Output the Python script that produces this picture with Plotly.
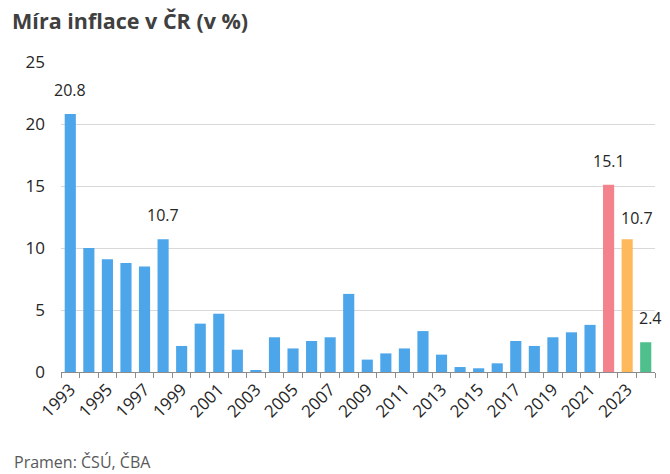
import plotly.graph_objects as go

years = list(range(1993, 2025))
inflation = [20.8, 10.0, 9.1, 8.8, 8.5, 10.7, 2.1, 3.9, 4.7, 1.8, 0.1, 2.8, 1.9, 2.5, 2.8,
             6.3, 1.0, 1.5, 1.9, 3.3, 1.4, 0.4, 0.3, 0.7, 2.5, 2.1, 2.8, 3.2, 3.8, 15.1, 10.7, 2.4]
labelled_years = [1993, 1998, 2022, 2023, 2024]
tick_years = list(range(1993, 2025, 2))
y_ticks = [0, 5, 10, 15, 20, 25]

BLUE = "#4da6ea"
special = {2022: "#f3828c", 2023: "#fdb95c", 2024: "#4fc08d"}
colors = [special.get(y, BLUE) for y in years]
# label pixel nudges (x, y) to mimic the original placement
nudges = {2023: (10, 8), 2024: (5, 11)}

fig = go.Figure()
fig.add_trace(go.Bar(
    x=years, y=inflation, marker_color=colors, marker_line_width=0,
))

annotations = []
for y, v in zip(years, inflation):
    if y in labelled_years:
        dx, dy = nudges.get(y, (0, 11))
        annotations.append(dict(
            x=y, y=v, text=f"{v:.1f}", xref="x", yref="y",
            xanchor="center", yanchor="bottom", showarrow=False, yshift=dy, xshift=dx,
            font=dict(size=16, color="#262626"),
        ))
annotations.append(dict(text="Pramen: ČSÚ, ČBA", xref="paper", yref="paper", x=-0.083, y=-0.29,
                        xanchor="left", yanchor="middle", showarrow=False,
                        font=dict(size=16, color="#595959")))

fig.update_layout(
    width=670, height=474,
    paper_bgcolor="white", plot_bgcolor="white",
    margin=dict(l=61, r=15, t=62, b=102),
    bargap=0.4,
    showlegend=False,
    font=dict(family="Open Sans, Noto Sans, sans-serif", size=16, color="#262626"),
    title=dict(text="<b>Míra inflace v ČR (v %)</b>", x=0.018, xanchor="left", y=0.955, yanchor="middle",
               font=dict(size=21.5, color="#404040")),
    xaxis=dict(
        range=[1992.5, 2024.5], tickmode="array", tickvals=tick_years,
        ticktext=[str(y) for y in tick_years], tickangle=-45,
        showgrid=False, showline=True, linecolor="#8c8c8c", linewidth=1,
        ticks="", tickfont=dict(size=17, color="#262626"),
        minor=dict(tickmode="linear", tick0=1992.5, dtick=1, ticks="outside", ticklen=5,
                   tickcolor="#8c8c8c", showgrid=False),
        zeroline=False,
    ),
    yaxis=dict(
        range=[0, 25], tickvals=y_ticks, showgrid=True, gridcolor="#d9d9d9", gridwidth=1,
        zeroline=False, showline=False, ticks="", ticklen=0,
        tickfont=dict(size=17, color="#262626"), ticklabelstandoff=15,
    ),
    annotations=annotations,
)

fig.write_html("out.html", config={"displayModeBar": False},
               post_script="document.body.style.margin='0';")
